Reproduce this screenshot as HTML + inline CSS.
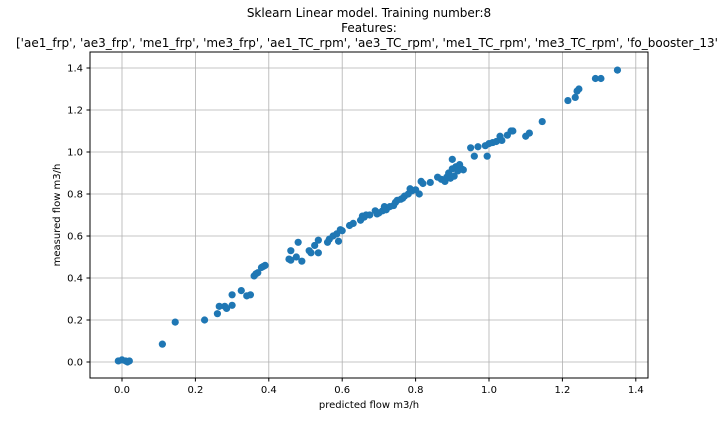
<!DOCTYPE html>
<html><head><meta charset="utf-8"><style>
body{margin:0;background:#fff;overflow:hidden}
svg{display:block;font-family:"DejaVu Sans","Liberation Sans",sans-serif}
</style></head><body>
<svg id="chart" width="720" height="432">
<g id="grid"></g>
<g id="pts"></g>
<rect x="90" y="52" width="558" height="326" fill="none" stroke="#000" stroke-width="1"/>
<g id="ticks" font-size="10" fill="#000"></g>
<text x="369" y="17" text-anchor="middle" font-size="12">Sklearn Linear model. Training number:8</text>
<text x="369" y="32" text-anchor="middle" font-size="12">Features:</text>
<text x="16" y="47" text-anchor="start" font-size="12">['ae1_frp', 'ae3_frp', 'me1_frp', 'me3_frp', 'ae1_TC_rpm', 'ae3_TC_rpm', 'me1_TC_rpm', 'me3_TC_rpm', 'fo_booster_13'</text>
<text x="369" y="408" text-anchor="middle" font-size="10">predicted flow m3/h</text>
<text transform="translate(60,215) rotate(-90)" text-anchor="middle" font-size="10">measured flow m3/h</text>
</svg>
<script>
const xTicks=[0.0,0.2,0.4,0.6,0.8,1.0,1.2,1.4];
const yTicks=[0.0,0.2,0.4,0.6,0.8,1.0,1.2,1.4];
const predicted=[-0.01,0.0,0.01,0.015,0.02,0.11,0.145,0.225,0.26,0.265,0.28,0.285,0.3,0.3,0.325,0.34,0.35,0.36,0.365,0.37,0.38,0.385,0.39,0.455,0.46,0.46,0.475,0.48,0.49,0.51,0.515,0.525,0.535,0.535,0.56,0.565,0.575,0.585,0.59,0.595,0.6,0.62,0.63,0.65,0.655,0.66,0.665,0.675,0.69,0.695,0.7,0.71,0.715,0.72,0.73,0.74,0.745,0.75,0.76,0.765,0.77,0.78,0.785,0.79,0.8,0.81,0.815,0.82,0.84,0.86,0.87,0.88,0.885,0.89,0.895,0.9,0.9,0.905,0.91,0.915,0.92,0.925,0.93,0.95,0.96,0.97,0.99,0.995,1.0,1.01,1.02,1.03,1.035,1.05,1.06,1.065,1.1,1.11,1.145,1.215,1.235,1.24,1.245,1.29,1.305,1.35];
const measured=[0.005,0.01,0.005,0.0,0.005,0.085,0.19,0.2,0.23,0.265,0.265,0.255,0.32,0.27,0.34,0.315,0.32,0.41,0.42,0.425,0.45,0.455,0.46,0.49,0.53,0.485,0.5,0.57,0.48,0.53,0.52,0.555,0.58,0.52,0.57,0.585,0.6,0.61,0.575,0.63,0.625,0.65,0.66,0.675,0.695,0.69,0.7,0.7,0.72,0.705,0.71,0.72,0.74,0.725,0.74,0.745,0.76,0.77,0.775,0.78,0.79,0.8,0.825,0.815,0.82,0.8,0.86,0.85,0.855,0.88,0.87,0.86,0.88,0.9,0.875,0.965,0.92,0.885,0.93,0.91,0.94,0.92,0.915,1.02,0.98,1.025,1.03,0.98,1.04,1.045,1.05,1.075,1.055,1.08,1.1,1.1,1.075,1.09,1.145,1.245,1.26,1.29,1.3,1.35,1.35,1.39];
const NS="http://www.w3.org/2000/svg";
function xs(v){return 122+v*367;}
function ys(v){return 362-v*210;}
const grid=document.getElementById('grid'),ticks=document.getElementById('ticks'),pts=document.getElementById('pts');
xTicks.forEach(t=>{
 const l=document.createElementNS(NS,'line');
 l.setAttribute('x1',xs(t));l.setAttribute('x2',xs(t));l.setAttribute('y1',52);l.setAttribute('y2',378);
 l.setAttribute('stroke','#b0b0b0');l.setAttribute('stroke-width','0.8');
 
 
 grid.appendChild(l);
 const k=document.createElementNS(NS,'line');
 k.setAttribute('x1',xs(t));k.setAttribute('x2',xs(t));k.setAttribute('y1',378);k.setAttribute('y2',381.5);k.setAttribute('stroke','#000');
 
 
 ticks.appendChild(k);
 const s=document.createElementNS(NS,'text');
 s.setAttribute('x',xs(t));s.setAttribute('y',393);s.setAttribute('text-anchor','middle');s.textContent=t.toFixed(1);
 
 
 ticks.appendChild(s);
});
yTicks.forEach(t=>{
 const l=document.createElementNS(NS,'line');
 l.setAttribute('y1',ys(t));l.setAttribute('y2',ys(t));l.setAttribute('x1',90);l.setAttribute('x2',648);
 l.setAttribute('stroke','#b0b0b0');l.setAttribute('stroke-width','0.8');
 
 
 grid.appendChild(l);
 const k=document.createElementNS(NS,'line');
 k.setAttribute('y1',ys(t));k.setAttribute('y2',ys(t));k.setAttribute('x1',86.5);k.setAttribute('x2',90);k.setAttribute('stroke','#000');
 
 
 ticks.appendChild(k);
 const s=document.createElementNS(NS,'text');
 s.setAttribute('x',83);s.setAttribute('y',ys(t)+3.5);s.setAttribute('text-anchor','end');s.textContent=t.toFixed(1);
 
 
 ticks.appendChild(s);
});
predicted.forEach((p,i)=>{
 const c=document.createElementNS(NS,'circle');
 c.setAttribute('cx',xs(p));c.setAttribute('cy',ys(measured[i]));c.setAttribute('r',3.6);c.setAttribute('fill','#1f77b4');
 
 
 pts.appendChild(c);
});
</script>
</body></html>
